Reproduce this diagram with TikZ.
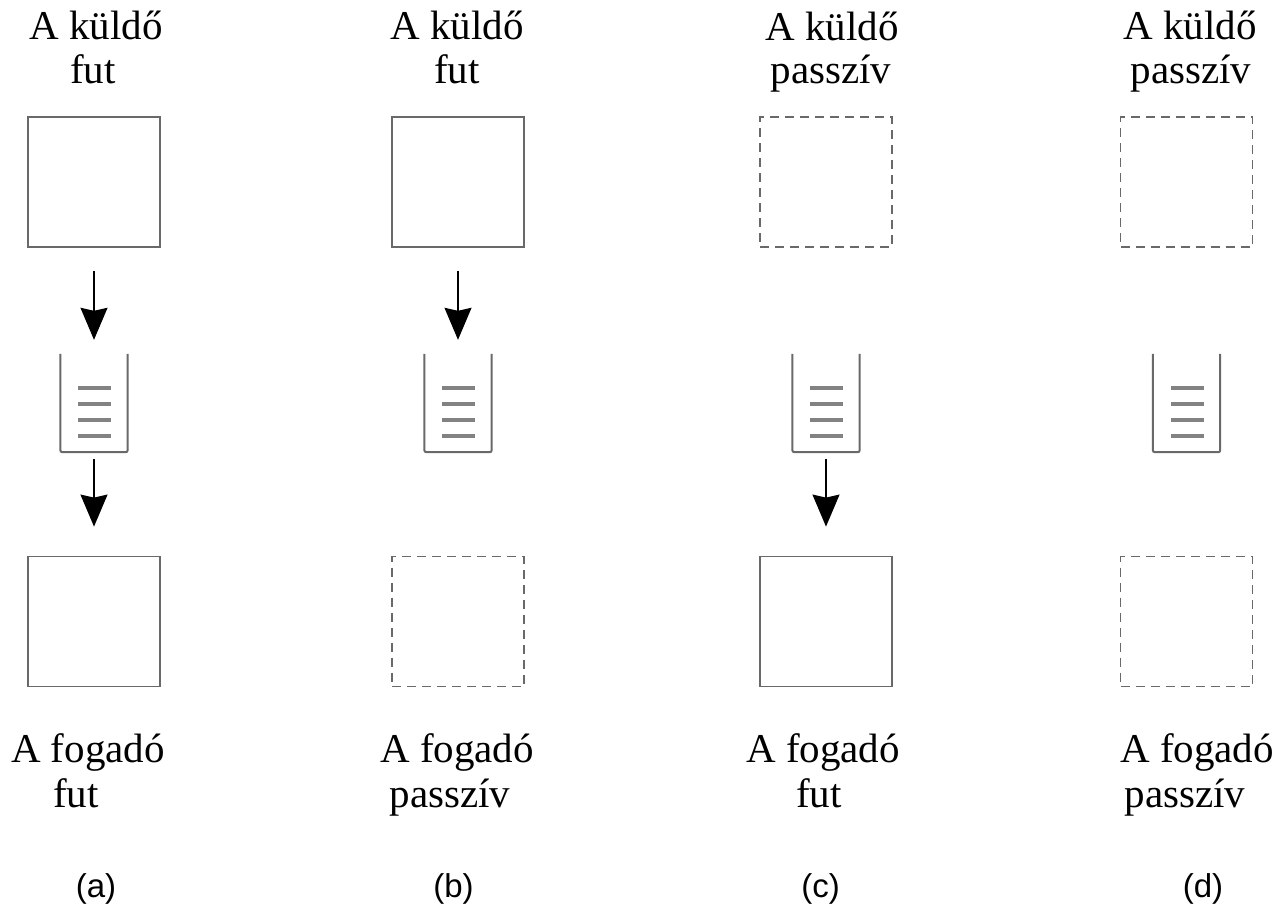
\documentclass[tikz,border=0pt]{standalone}
\usepackage{fontspec}
\setmainfont{Liberation Serif}
\newfontfamily\capfont{Liberation Sans}
\usetikzlibrary{arrows.meta}
\definecolor{boxgray}{RGB}{105,105,105}
\definecolor{linegray}{RGB}{130,130,130}
\begin{document}
\begin{tikzpicture}[x=1pt,y=-1pt,
  procbox/.style={draw=boxgray, line width=1.8pt, minimum width=132pt, minimum height=130pt, inner sep=0pt},
  runbox/.style={procbox},
  idlebox/.style={procbox, dash pattern=on 9pt off 6pt},
  qslot/.style={minimum width=67pt, minimum height=98pt, inner sep=0pt},
  qwall/.style={draw=boxgray, line width=2pt, rounded corners=2pt},
  qline/.style={draw=linegray, line width=3.2pt},
  flow/.style={draw=black, line width=1.4pt, -{Stealth[width=27pt,length=32pt,inset=3pt]}},
  txt/.style={font=\fontsize{41}{44}\selectfont, inner sep=0pt, anchor=base},
  caselabel/.style={font=\capfont\fontsize{33}{36}\selectfont, inner sep=0pt, anchor=base}]
\useasboundingbox (0,0) rectangle (1280,905);

% processes: senders on top, receivers below
\node[runbox]  (sa) at (94,182) {};
\node[runbox]  (sb) at (458,182) {};
\node[idlebox] (sc) at (826,182) {};
\node[idlebox] (sd) at (1186.5,182) {};
\node[runbox]  (ra) at (94,621.5) {};
\node[idlebox] (rb) at (458,621.5) {};
\node[runbox]  (rc) at (826,621.5) {};
\node[idlebox] (rd) at (1186.5,621.5) {};

% message queues
\foreach \n/\cx in {qa/94, qb/458, qc/826, qd/1186.5} {
  \node[qslot] (\n) at (\cx,403) {};
  \draw[qwall] (\n.north west) -- (\n.south west) -- (\n.south east) -- (\n.north east);
  \foreach \ly in {388,404,420,436}
    \draw[qline] (\cx-16,\ly) -- (\cx+17,\ly);
}

% message flow
\draw[flow, shorten <=23pt, shorten >=14pt] (sa.south) -- (qa.north);
\draw[flow, shorten <=7pt, shorten >=29pt] (qa.south) -- (ra.north);
\draw[flow, shorten <=23pt, shorten >=14pt] (sb.south) -- (qb.north);
\draw[flow, shorten <=7pt, shorten >=29pt] (qc.south) -- (rc.north);

% sender states
\node[txt] (ta1) at (96,39) {A küldő};
\node[txt] (ta2) at (93,83) {fut};
\node[txt] (tb1) at (457,39) {A küldő};
\node[txt] (tb2) at (457,83) {fut};
\node[txt] (tc1) at (832,40) {A küldő};
\node[txt] (tc2) at (831,83) {passzív};
\node[txt] (td1) at (1190,39) {A küldő};
\node[txt] (td2) at (1191,83) {passzív};

% receiver states
\node[txt] (ba1) at (88,762) {A fogadó};
\node[txt] (ba2) at (76,807) {fut};
\node[txt] (bb1) at (457,762) {A fogadó};
\node[txt] (bb2) at (450,807) {passzív};
\node[txt] (bc1) at (823,762) {A fogadó};
\node[txt] (bc2) at (819,807) {fut};
\node[txt] (bd1) at (1197,762) {A fogadó};
\node[txt] (bd2) at (1185,807) {passzív};

% case labels
\node[caselabel] (la) at (96,897) {(a)};
\node[caselabel] (lb) at (453.5,897) {(b)};
\node[caselabel] (lc) at (820.5,897) {(c)};
\node[caselabel] (ld) at (1203,897) {(d)};
\end{tikzpicture}
\end{document}
